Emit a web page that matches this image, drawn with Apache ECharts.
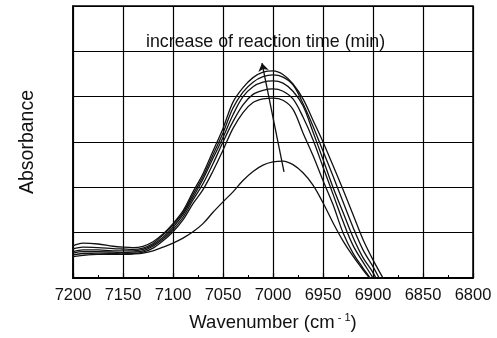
<!DOCTYPE html>
<html>
<head>
<meta charset="utf-8">
<script src="https://cdn.jsdelivr.net/npm/echarts@6/dist/echarts.min.js"></script>
<style>
  html, body { margin: 0; padding: 0; background: #fff; }
  #chart { width: 497px; height: 338px; }
</style>
</head>
<body>
<div id="chart"></div>
<script>
// wavenumbers (cm-1) where the spectra were read
var wavenumbers = [7200, 7190, 7175, 7160, 7150, 7140, 7130, 7120, 7110, 7100, 7090, 7080, 7070, 7060, 7050, 7040,
  7030, 7020, 7010, 7000, 6990, 6980, 6970, 6960, 6950, 6940, 6930, 6920, 6910, 6900, 6890, 6880];

// absorbance, one list per reaction time (earliest = lowest)
var spec1 = [0.47, 0.50, 0.52, 0.52, 0.52, 0.53, 0.55, 0.60, 0.68, 0.77, 0.88, 1.02, 1.20, 1.45, 1.68, 1.90,
  2.15, 2.35, 2.49, 2.56, 2.58, 2.50, 2.32, 2.05, 1.66, 1.22, 0.82, 0.48, 0.18, -0.10, -0.40, -0.70];
var spec2 = [0.51, 0.54, 0.55, 0.54, 0.53, 0.54, 0.57, 0.66, 0.82, 1.02, 1.28, 1.64, 1.95, 2.36, 2.82, 3.30,
  3.65, 3.87, 3.95, 3.97, 3.92, 3.72, 3.20, 2.70, 2.15, 1.62, 1.00, 0.55, 0.22, -0.10, -0.50, -0.90];
var spec3 = [0.55, 0.58, 0.58, 0.57, 0.56, 0.57, 0.60, 0.70, 0.86, 1.07, 1.34, 1.72, 2.08, 2.52, 3.00, 3.45,
  3.82, 4.05, 4.14, 4.17, 4.12, 3.95, 3.55, 3.05, 2.45, 1.85, 1.25, 0.72, 0.35, 0.00, -0.40, -0.80];
var spec4 = [0.58, 0.62, 0.62, 0.60, 0.60, 0.60, 0.63, 0.73, 0.90, 1.12, 1.40, 1.78, 2.18, 2.64, 3.10, 3.60,
  4.00, 4.22, 4.32, 4.35, 4.30, 4.12, 3.80, 3.22, 2.62, 2.00, 1.45, 0.90, 0.45, 0.12, -0.30, -0.70];
var spec5 = [0.64, 0.68, 0.67, 0.65, 0.64, 0.63, 0.66, 0.76, 0.95, 1.17, 1.44, 1.84, 2.24, 2.72, 3.20, 3.75,
  4.10, 4.32, 4.44, 4.48, 4.43, 4.26, 3.85, 3.35, 2.80, 2.25, 1.68, 1.12, 0.62, 0.25, -0.15, -0.50];
var spec6 = [0.71, 0.77, 0.75, 0.70, 0.68, 0.67, 0.70, 0.80, 0.97, 1.20, 1.48, 1.90, 2.30, 2.80, 3.30, 3.88,
  4.20, 4.42, 4.54, 4.57, 4.49, 4.28, 3.95, 3.48, 3.00, 2.48, 1.95, 1.40, 0.85, 0.40, 0.00, -0.40];
var allSpectra = [spec1, spec2, spec3, spec4, spec5, spec6];

// arrow "increase of reaction time": tail -> head, in data units
var arrowTail = [6989, 2.34];
var arrowHead = [7011, 4.74];

var xTicks = { min: 6800, max: 7200, step: 50 };
var yTicks = { min: 0, max: 6, step: 1 };

var font = '"Liberation Sans", Arial, Helvetica, sans-serif';

var series = allSpectra.map(function (vals) {
  return {
    type: 'line',
    data: wavenumbers.map(function (w, i) { return [w, vals[i]]; }),
    smooth: 0.35,
    showSymbol: false,
    silent: true,
    lineStyle: { color: '#111', width: 1.3 }
  };
});

series.push({
  type: 'lines',
  coordinateSystem: 'cartesian2d',
  silent: true,
  symbol: ['none', 'arrow'],
  symbolSize: 8,
  lineStyle: { color: '#111', width: 1.3, opacity: 1 },
  data: [{ coords: [arrowTail, arrowHead] }]
});

var myChart = echarts.init(document.getElementById('chart'));
myChart.setOption({
  animation: false,
  backgroundColor: '#fff',
  textStyle: { fontFamily: font },
  grid: {
    left: 73, right: 24, top: 6, bottom: 60,
    show: true, borderColor: '#000', borderWidth: 1.5, backgroundColor: 'transparent'
  },
  graphic: [{
    type: 'text', left: 146, top: 33,
    style: { text: 'increase of reaction time (min)', fontSize: 17.8, fontFamily: font, fill: '#111' }
  }],
  xAxis: {
    type: 'value',
    inverse: true,
    min: xTicks.min, max: xTicks.max, interval: xTicks.step,
    name: '{a|Wavenumber (cm}{s| - 1}{a|)}',
    nameLocation: 'middle',
    nameGap: 34,
    nameTextStyle: {
      rich: {
        a: { fontSize: 18.5, fontFamily: font, color: '#111', lineHeight: 21 },
        s: { fontSize: 11, fontFamily: font, color: '#111', verticalAlign: 'top', lineHeight: 12 }
      }
    },
    axisLine: { show: true, lineStyle: { color: '#000', width: 2 } },
    axisTick: { show: true, inside: true, length: 5, lineStyle: { color: '#000', width: 1.2 } },
    minorTick: { show: true, splitNumber: 2, length: 3, lineStyle: { color: '#000', width: 1 } },
    axisLabel: {
      color: '#111', fontSize: 16.5, margin: 9, fontFamily: font,
      formatter: function (v) { return String(v); }
    },
    splitLine: { show: true, lineStyle: { color: '#000', width: 1.2 } }
  },
  yAxis: {
    type: 'value',
    min: yTicks.min, max: yTicks.max, interval: yTicks.step,
    name: 'Absorbance',
    nameLocation: 'middle',
    nameGap: 35,
    nameTextStyle: { fontSize: 19.5, color: '#111', fontFamily: font },
    axisLine: { show: true, lineStyle: { color: '#000', width: 1.5 } },
    axisTick: { show: false },
    axisLabel: { show: false },
    splitLine: { show: true, lineStyle: { color: '#000', width: 1.2 } }
  },
  series: series
});
</script>
</body>
</html>
